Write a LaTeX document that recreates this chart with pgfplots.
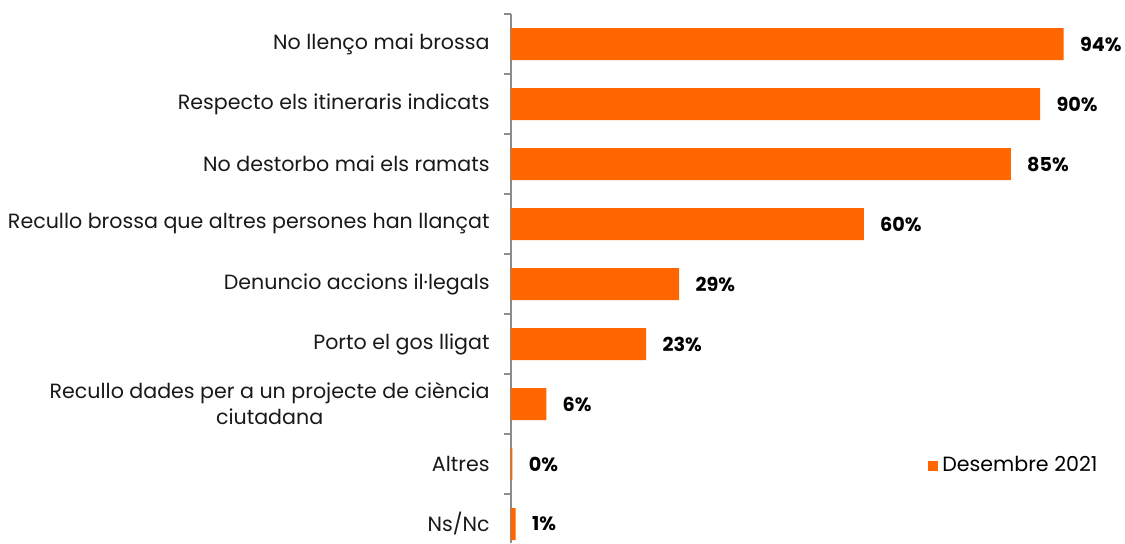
\documentclass[border=0pt]{standalone}
\usepackage{pgfplots}
\pgfplotsset{compat=1.18}
\usepackage{fontspec}
\setmainfont{Poppins}
\definecolor{barc}{HTML}{FF6600}
\definecolor{axc}{HTML}{8C8C8C}
\begin{document}
\begin{tikzpicture}
\path[use as bounding box] (0,0) rectangle (562.5pt,271.5pt);
\begin{axis}[
  at={(255.5pt,0pt)}, anchor=south west,
  scale only axis, width=294pt, height=264.5pt,
  xmin=0, xmax=100, ymin=-0.5, ymax=8.3167, y dir=reverse,
  xbar, bar width=16pt, clip=false,
  axis x line=none, axis y line=left,
  axis line style={axc, line width=0.75pt, -},
  ytick={0,...,8},
  yticklabels={No llenço mai brossa, Respecto els itineraris indicats, No destorbo mai els ramats, Recullo brossa que altres persones han llançat, Denuncio accions il·legals, Porto el gos lligat, {Recullo dades per a un projecte de ciència\\ciutadana}, Altres, Ns/Nc},
  yticklabel style={font=\fontsize{10.3}{13}\selectfont, align=center, inner sep=0pt, xshift=-10.5pt, text=black!90},
  major tick length=0pt,
  extra y ticks={-0.5,0.5,1.5,2.5,3.5,4.5,5.5,6.5,7.5},
  extra y tick labels={},
  extra y tick style={major tick length=3.5pt, tick align=outside, tick style={axc, line width=0.75pt}},
  legend style={at={(0.709,0.146)}, anchor=west, draw=none, fill=none, inner sep=0pt, font=\fontsize{10.3}{12}\selectfont},
  legend image code/.code={\fill[barc] (0pt,-2.5pt) rectangle (5pt,2.5pt);},
]
\addplot[fill=barc, draw=none, nodes near coords, point meta=explicit symbolic,
  nodes near coords style={font=\bfseries\fontsize{9.6}{11}\selectfont, anchor=west, inner sep=0pt, xshift=8pt, text=black}]
  coordinates {(94,0)[94\%] (90,1)[90\%] (85,2)[85\%] (60,3)[60\%] (28.6,4)[29\%] (23,5)[23\%] (6,6)[6\%] (0.25,7)[0\%] (0.8,8)[1\%]};
\addlegendentry{Desembre 2021}
\end{axis}
\end{tikzpicture}
\end{document}
